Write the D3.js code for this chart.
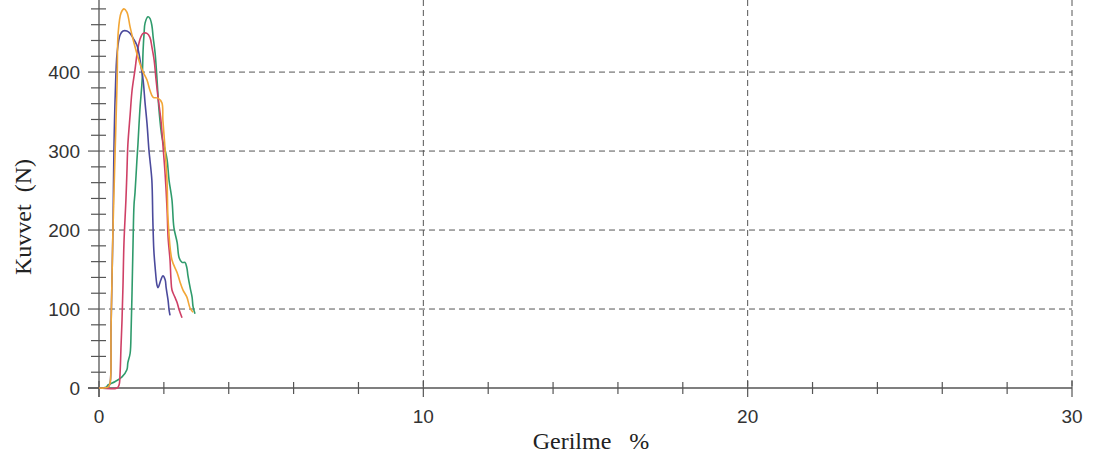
<!DOCTYPE html>
<html>
<head>
<meta charset="utf-8">
<script src="https://cdn.jsdelivr.net/npm/d3@7"></script>
<style>
  html, body { margin: 0; padding: 0; background: #fff; }
  svg { display: block; }
  .tick-label { font-family: "Liberation Sans", Arial, sans-serif; font-size: 19px; fill: #333; }
  .axis-title { font-family: "Liberation Serif", "Times New Roman", serif; font-size: 24px; fill: #222; white-space: pre; }
</style>
</head>
<body>
<div id="chart"></div>
<script>
// Kuvvet (N) vs Gerilme (%) — four specimens

const xMajorTicks = [0, 10, 20, 30];
const yMajorTicks = [0, 100, 200, 300, 400];

// [strain %, force N]
const orangeCurve = [
  [0, 0], [0.28, 1], [0.34, 6], [0.37, 73], [0.40, 137], [0.43, 200], [0.49, 289],
  [0.56, 390], [0.59, 449], [0.68, 475], [0.77, 480], [0.86, 476], [0.96, 457],
  [1.11, 432], [1.26, 411], [1.36, 400], [1.48, 390], [1.57, 377], [1.67, 368],
  [1.82, 367], [1.94, 361], [1.97, 339], [2.04, 301], [2.10, 259], [2.13, 213],
  [2.25, 162], [2.41, 146], [2.50, 134], [2.59, 124], [2.71, 115], [2.81, 101], [2.90, 96]
];

const blueCurve = [
  [0, 0], [0.28, 1], [0.34, 6], [0.37, 73], [0.40, 137], [0.43, 200], [0.46, 300],
  [0.50, 370], [0.56, 425], [0.65, 447], [0.74, 452], [0.86, 452], [0.96, 449], [1.05, 443],
  [1.17, 434], [1.23, 424], [1.30, 406], [1.36, 390], [1.42, 361], [1.48, 335],
  [1.54, 301], [1.57, 289], [1.63, 263], [1.66, 213], [1.69, 175], [1.73, 153],
  [1.79, 130], [1.82, 127], [1.91, 137], [1.97, 142], [2.04, 137], [2.07, 127],
  [2.13, 111], [2.16, 99], [2.19, 92]
];

const redCurve = [
  [0, 0], [0.56, 0], [0.62, 4], [0.65, 19], [0.68, 54], [0.71, 86], [0.74, 130],
  [0.77, 184], [0.83, 238], [0.86, 272], [0.89, 308], [0.96, 346], [1.02, 377],
  [1.11, 403], [1.17, 422], [1.26, 441], [1.36, 449], [1.48, 449], [1.57, 444],
  [1.63, 432], [1.70, 415], [1.76, 390], [1.82, 368], [1.91, 339], [1.97, 308],
  [2.04, 270], [2.10, 225], [2.13, 191], [2.19, 162], [2.22, 137], [2.25, 124],
  [2.34, 115], [2.41, 108], [2.47, 99], [2.56, 89]
];

const greenCurve = [
  [0, 0], [0.22, 1], [0.28, 4], [0.49, 8], [0.71, 14], [0.86, 23], [0.89, 32],
  [0.96, 44], [0.99, 73], [1.02, 124], [1.05, 184], [1.08, 232], [1.11, 247],
  [1.17, 289], [1.20, 308], [1.26, 352], [1.33, 390], [1.36, 428], [1.39, 449],
  [1.42, 462], [1.51, 470], [1.57, 468], [1.63, 459], [1.67, 444], [1.73, 424],
  [1.79, 390], [1.85, 352], [1.94, 318], [2.04, 301], [2.10, 289], [2.16, 263],
  [2.25, 238], [2.31, 203], [2.41, 184], [2.47, 165], [2.56, 159], [2.65, 159],
  [2.71, 152], [2.74, 143], [2.81, 127], [2.87, 115], [2.90, 103], [2.96, 94]
];

const seriesList = [
  { name: "green",  color: "#2f9b6c", data: greenCurve },
  { name: "red",    color: "#cf4066", data: redCurve },
  { name: "blue",   color: "#4b4a9c", data: blueCurve },
  { name: "orange", color: "#f2a636", data: orangeCurve }
];

const W = 1093, H = 457;
const plot = { left: 99, right: 1072, top: 1, bottom: 388 };

const svg = d3.select("#chart").append("svg")
  .attr("width", W)
  .attr("height", H);

const x = d3.scaleLinear().domain([0, 30]).range([plot.left, plot.right]);
const y = d3.scaleLinear().domain([0, 490]).range([plot.bottom, plot.top]);

const axisColor = "#555";
const gridColor = "#555";

// grid (dashed)
svg.append("g").selectAll("line")
  .data(yMajorTicks.filter(d => d > 0))
  .join("line")
  .attr("x1", x(0)).attr("x2", x(30))
  .attr("y1", d => y(d)).attr("y2", d => y(d))
  .attr("stroke", gridColor).attr("stroke-width", 1)
  .attr("stroke-dasharray", "6,4");

svg.append("g").selectAll("line")
  .data(xMajorTicks.filter(d => d > 0))
  .join("line")
  .attr("x1", d => x(d)).attr("x2", d => x(d))
  .attr("y1", plot.top - 1).attr("y2", y(0))
  .attr("stroke", gridColor).attr("stroke-width", 1)
  .attr("stroke-dasharray", "6,4");

// axes lines
svg.append("line")
  .attr("x1", x(0) - 11).attr("x2", x(30))
  .attr("y1", y(0)).attr("y2", y(0))
  .attr("stroke", axisColor).attr("stroke-width", 1.3);

svg.append("line")
  .attr("x1", x(0)).attr("x2", x(0))
  .attr("y1", 0).attr("y2", y(0) + 9)
  .attr("stroke", axisColor).attr("stroke-width", 1.3);

// x ticks: minor every 2, major every 10
const xMinor = d3.range(0, 31, 2).filter(d => d % 10 !== 0);
svg.append("g").selectAll("line")
  .data(xMinor)
  .join("line")
  .attr("x1", d => x(d)).attr("x2", d => x(d))
  .attr("y1", y(0) - 6).attr("y2", y(0) + 6)
  .attr("stroke", axisColor).attr("stroke-width", 1.2);

svg.append("g").selectAll("line")
  .data(xMajorTicks)
  .join("line")
  .attr("x1", d => x(d)).attr("x2", d => x(d))
  .attr("y1", y(0) - 7).attr("y2", y(0) + 9)
  .attr("stroke", axisColor).attr("stroke-width", 1.2);

svg.append("g").selectAll("text")
  .data(xMajorTicks)
  .join("text")
  .attr("class", "tick-label")
  .attr("x", d => x(d))
  .attr("y", y(0) + 35)
  .attr("text-anchor", "middle")
  .text(d => d);

// y ticks: minor every 20, major every 100
const yMinor = d3.range(0, 481, 20).filter(d => d % 100 !== 0);
svg.append("g").selectAll("line")
  .data(yMinor)
  .join("line")
  .attr("x1", x(0) - 8).attr("x2", x(0) + 7)
  .attr("y1", d => y(d)).attr("y2", d => y(d))
  .attr("stroke", axisColor).attr("stroke-width", 1.2);

svg.append("g").selectAll("line")
  .data(yMajorTicks)
  .join("line")
  .attr("x1", x(0) - 11).attr("x2", x(0))
  .attr("y1", d => y(d)).attr("y2", d => y(d))
  .attr("stroke", axisColor).attr("stroke-width", 1.2);

svg.append("g").selectAll("text")
  .data(yMajorTicks)
  .join("text")
  .attr("class", "tick-label")
  .attr("x", x(0) - 19)
  .attr("y", d => y(d))
  .attr("dy", "0.35em")
  .attr("text-anchor", "end")
  .text(d => d);

// axis titles
svg.append("text")
  .attr("class", "axis-title")
  .attr("x", 591)
  .attr("y", 449)
  .attr("text-anchor", "middle")
  .text("Gerilme   %");

svg.append("text")
  .attr("class", "axis-title")
  .attr("transform", "translate(31,217) rotate(-90)")
  .attr("text-anchor", "middle")
  .text("Kuvvet  (N)");

// curves
const line = d3.line()
  .curve(d3.curveCatmullRom.alpha(0.5))
  .x(d => x(d[0]))
  .y(d => y(d[1]));

svg.append("g").selectAll("path")
  .data(seriesList)
  .join("path")
  .attr("d", d => line(d.data))
  .attr("fill", "none")
  .attr("stroke", d => d.color)
  .attr("stroke-width", 1.6)
  .attr("stroke-linejoin", "round");
</script>
</body>
</html>
